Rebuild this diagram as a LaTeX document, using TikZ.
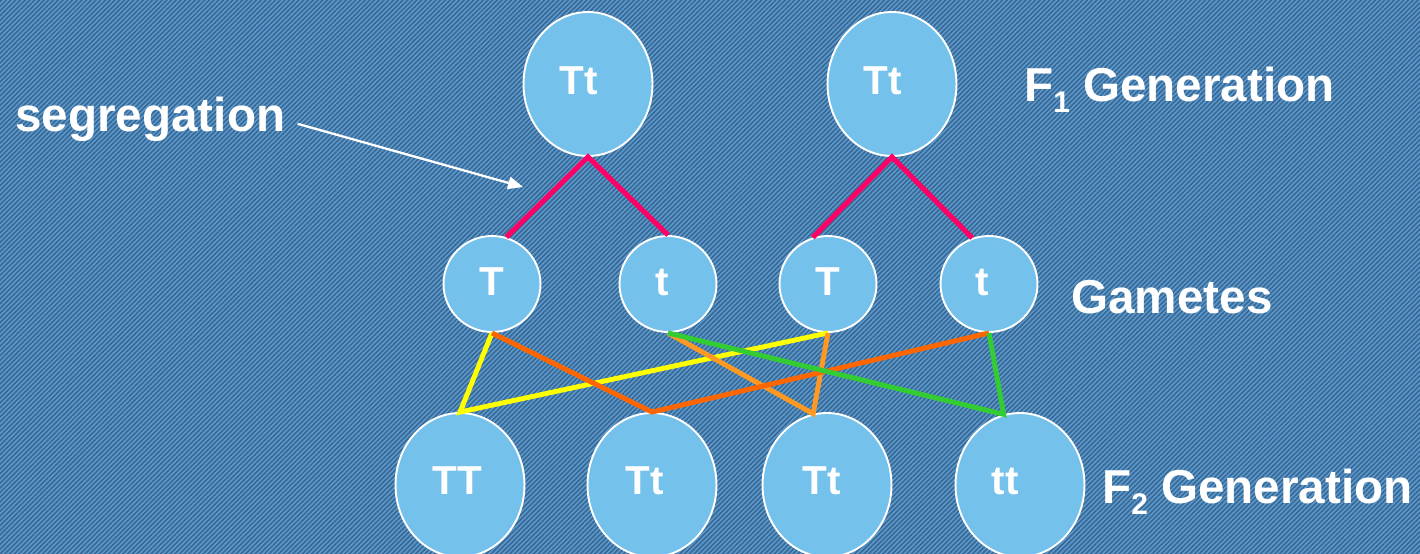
\documentclass[tikz,border=0pt]{standalone}
\usepackage{fontspec}
\setmainfont{Liberation Sans}
\usetikzlibrary{shapes.geometric,arrows.meta,patterns.meta,calc}
\definecolor{bgblue}{HTML}{5A9BD0}
\definecolor{stripe}{HTML}{3A6690}
\definecolor{cellfill}{HTML}{74C1EC}
\definecolor{pinkline}{HTML}{FF0066}
\definecolor{yel}{HTML}{FFFF00}
\definecolor{orng}{HTML}{FF6600}
\definecolor{lorng}{HTML}{FF9922}
\definecolor{grn}{HTML}{33CC33}
\begin{document}
\begin{tikzpicture}[x=0.02cm,y=-0.02cm,
  cell/.style={ellipse, draw=white, line width=1.1pt, fill=cellfill, inner sep=0pt},
  bigcell/.style={cell, minimum width=2.58cm, minimum height=2.88cm},
  gamcell/.style={cell, minimum width=1.94cm, minimum height=1.92cm},
  celltext/.style={text=white, font=\fontsize{23}{23}\selectfont\bfseries, inner sep=0pt},
  caption/.style={text=white, font=\fontsize{27.1}{28}\selectfont\bfseries, inner sep=0pt, anchor=base west},
  splitline/.style={line width=2.9pt, draw=pinkline},
  crossline/.style={line width=2.8pt},
]
\useasboundingbox (0,0) rectangle (1420,554);
\clip (0,0) rectangle (1420,554);
\fill[bgblue] (0,0) rectangle (1420,554);
\fill[pattern={Lines[angle=45,distance=1.9pt,line width=0.9pt]}, pattern color=stripe] (0,0) rectangle (1420,554);

% F1
\node[bigcell, label={[celltext,xshift=-0.18cm,yshift=0.06cm]center:Tt}] (p1) at (588,84) {};
\node[bigcell, label={[celltext,xshift=-0.18cm,yshift=0.06cm]center:Tt}] (p2) at (892,84) {};
% gametes
\node[gamcell, label={[celltext,yshift=0.04cm]center:T}] (g1) at (492,284) {};
\node[gamcell, label={[celltext,xshift=-0.12cm,yshift=0.04cm]center:t}] (g2) at (668,284) {};
\node[gamcell, label={[celltext,yshift=0.04cm]center:T}] (g3) at (828,284) {};
\node[gamcell, label={[celltext,xshift=-0.14cm,yshift=0.04cm]center:t}] (g4) at (989,284) {};
% F2
\node[bigcell, label={[celltext,xshift=-0.06cm,yshift=0.08cm]center:TT}] (f1) at (460,485) {};
\node[bigcell, label={[celltext,xshift=-0.14cm,yshift=0.08cm]center:Tt}] (f2) at (652,485) {};
\node[bigcell, label={[celltext,xshift=-0.10cm,yshift=0.08cm]center:Tt}] (f3) at (827,485) {};
\node[bigcell, label={[celltext,xshift=-0.30cm,yshift=0.08cm]center:tt}] (f4) at (1020,485) {};

% segregation lines
\draw[splitline] (g1.73) -- (p1.south) -- (g2.north);
\draw[splitline] (g3.108) -- (p2.south) -- (g4.110);

% crosses
\draw[crossline, draw=yel] (g1.south) -- (f1.north) -- (g3.south);
\draw[crossline, draw=lorng] (g2.south) -- (f3.101) -- (g3.south);
\draw[crossline, draw=orng] (g1.south) -- (f2.north) -- (g4.south);
\draw[crossline, draw=grn] (g2.south) -- (f4.103) -- (g4.south);

% captions
\node[caption] (seg) at (15,132) {segregation};
\coordinate (segtip) at (523,187);
\draw[white, line width=1.3pt, -{Triangle[length=8.5pt,width=7pt]}] ($(seg.east)+(12,4)$) -- (segtip);

\node[caption] (f1gen) at (1024,102) {F\raisebox{-6.2pt}{\fontsize{17}{17}\selectfont 1} Generation};
\node[caption] (gam) at (1071,313) {Gametes};
\node[caption] (f2gen) at (1102,503) {F\raisebox{-6.5pt}{\fontsize{17}{17}\selectfont 2} Generation};
\end{tikzpicture}
\end{document}
